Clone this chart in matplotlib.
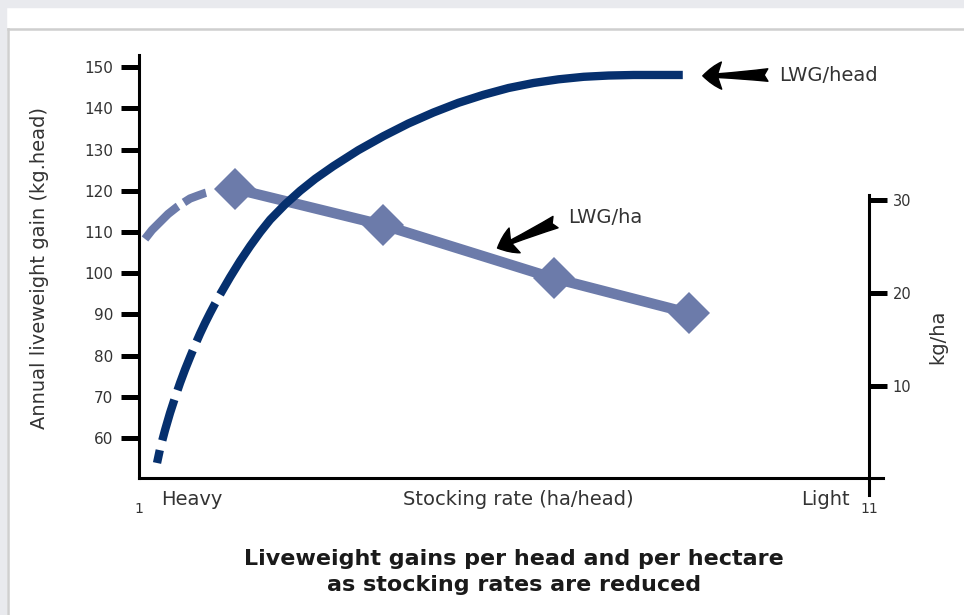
import matplotlib.pyplot as plt
from matplotlib.patches import Rectangle
from matplotlib.lines import Line2D

# stocking rate position (x) and liveweight gain per head (left axis)
# dashed (extrapolated) part, read from the junction downwards
head_x_dash = [2.111, 2.043, 1.974, 1.905, 1.837, 1.768, 1.700, 1.631, 1.562,
               1.494, 1.425, 1.357, 1.288, 1.247]
head_y_dash = [94.85, 92.65, 90.34, 87.91, 85.36, 82.57, 79.66, 76.63, 73.35,
               69.83, 66.07, 61.94, 57.33, 53.93]
head_x = [2.111, 2.248, 2.385, 2.523, 2.660, 2.797, 3.003, 3.208, 3.414, 3.661,
          4.004, 4.347, 4.690, 5.033, 5.376, 5.719, 6.062, 6.405, 6.748, 7.091,
          7.433, 7.776, 8.119, 8.449]
head_y = [94.85, 99.03, 102.96, 106.60, 109.95, 112.99, 116.72, 120.00, 122.91, 125.97,
          129.85, 133.25, 136.33, 139.00, 141.36, 143.30, 144.95, 146.17, 147.06, 147.67,
          147.98, 148.11, 148.11, 148.11]

# liveweight gain per hectare (right axis)
ha_x_dash = [1.082, 1.178, 1.288, 1.398, 1.521, 1.604, 1.700, 1.809, 1.905,
             2.043, 2.180, 2.317]
ha_y_dash = [25.81, 26.77, 27.63, 28.49, 29.25, 29.68, 30.16, 30.48, 30.75,
             31.02, 31.18, 31.22]
ha_x = [2.317, 4.347, 6.679, 8.531]
ha_y = [31.2, 27.3, 21.6, 17.85]

left_ticks = [60, 70, 80, 90, 100, 110, 120, 130, 140, 150]
right_ticks = [10, 20, 30]
x_ticks = [1, 11]

navy = "#06306e"
slate = "#6c7baa"
txt = "#333333"

W, H = 964, 615
fig = plt.figure(figsize=(W / 100, H / 100), dpi=100)

# page background / panel frame
fig.patches.append(Rectangle((0, 1 - 7 / H), 1, 7 / H, transform=fig.transFigure, color="#e9eaee", zorder=0))
fig.patches.append(Rectangle((0, 0), 6 / W, 1, transform=fig.transFigure, color="#e9eaee", zorder=0))
fig.lines.append(Line2D([8 / W, 1], [1 - 29 / H] * 2, transform=fig.transFigure, color="#cfcfcf", lw=1.8))
fig.lines.append(Line2D([8 / W] * 2, [0, 1 - 29 / H], transform=fig.transFigure, color="#cfcfcf", lw=1.8))

# axes box in pixels: left 139, right 869, top 55, bottom 478
ax = fig.add_axes([139 / W, (H - 478) / H, 730 / W, 423 / H])
ax2 = ax.twinx()

ax.set_xlim(1, 11)
ax.set_ylim(50.29, 152.96)
ax2.set_ylim(0.108, 45.59)

for a in (ax, ax2):
    a.patch.set_visible(False)
    for s in a.spines.values():
        s.set_visible(False)

ax.spines["left"].set_visible(True)
ax.spines["left"].set_linewidth(2.2)
ax.spines["bottom"].set_visible(True)
ax.spines["bottom"].set_linewidth(2.2)
ax.spines["bottom"].set_bounds(1, 11.19)
ax2.spines["right"].set_visible(True)
ax2.spines["right"].set_linewidth(2.2)
ax2.spines["right"].set_bounds(-1.72, 30.5)

ax.set_yticks(left_ticks)
ax.tick_params(axis="y", direction="out", length=13, width=3.6, pad=5.5,
               labelsize=11, labelcolor=txt)
ax2.set_yticks(right_ticks)
ax2.tick_params(axis="y", direction="out", length=13, width=3.6, pad=4,
                labelsize=10.5, labelcolor=txt)
ax.set_xticks(x_ticks)
ax.set_xticklabels([str(v) for v in x_ticks])
ax.tick_params(axis="x", length=0, pad=17, labelsize=10, labelcolor=txt)

# LWG/ha series (right axis)
ax2.plot(ha_x_dash, ha_y_dash, color=slate, lw=6, linestyle=(0, (5.6, 0.85, 2.9, 4)),
         dash_capstyle="butt", zorder=2)
ax2.plot(ha_x, ha_y, color=slate, lw=7.5, marker="D", ms=21, mew=0,
         solid_capstyle="butt", zorder=2)

# LWG/head series (left axis), drawn on top
ax.set_zorder(ax2.get_zorder() + 1)
ax.plot(head_x, head_y, color=navy, lw=6, solid_capstyle="butt", zorder=3)
ax.plot(head_x_dash, head_y_dash, color=navy, lw=6, linestyle=(5.1, (5.1, 1.2)),
        dash_capstyle="butt", zorder=3)

# callout arrows
arrow = "fancy,head_length=0.45,head_width=0.65,tail_width=0.3"
ax.annotate("", xy=(8.723, 147.9), xytext=(9.615, 148.1),
            arrowprops=dict(arrowstyle=arrow, fc="black", ec="black",
                            mutation_scale=30, shrinkA=0, shrinkB=0))
ax.text(9.766, 148.0, "LWG/head", fontsize=14, color=txt, va="center", ha="left")
ax.annotate("", xy=(5.911, 106.1), xytext=(6.706, 112.4),
            arrowprops=dict(arrowstyle=arrow, fc="black", ec="black",
                            mutation_scale=30, shrinkA=0, shrinkB=0))
ax.text(6.885, 113.4, "LWG/ha", fontsize=14, color=txt, va="center", ha="left")

# axis captions
xt = ax.get_xaxis_transform()
ax.text(1.727, -0.052, "Heavy", transform=xt, fontsize=14, color=txt, ha="center", va="center")
ax.text(6.2, -0.052, "Stocking rate (ha/head)", transform=xt, fontsize=14, color=txt,
        ha="center", va="center")
ax.text(10.4, -0.052, "Light", transform=xt, fontsize=14, color=txt, ha="center", va="center")

fig.text(40 / W, 1 - 268 / H, "Annual liveweight gain (kg.head)", rotation=90,
         fontsize=14, color=txt, ha="center", va="center")
fig.text(938 / W, 1 - 337 / H, "kg/ha", rotation=90, fontsize=14, color=txt,
         ha="center", va="center")

fig.text(514 / W, 1 - 572 / H, "Liveweight gains per head and per hectare\nas stocking rates are reduced",
         fontsize=16, fontweight="bold", color="#1a1a1a", ha="center", va="center",
         linespacing=1.35)

fig.savefig("out.png", dpi=100)
